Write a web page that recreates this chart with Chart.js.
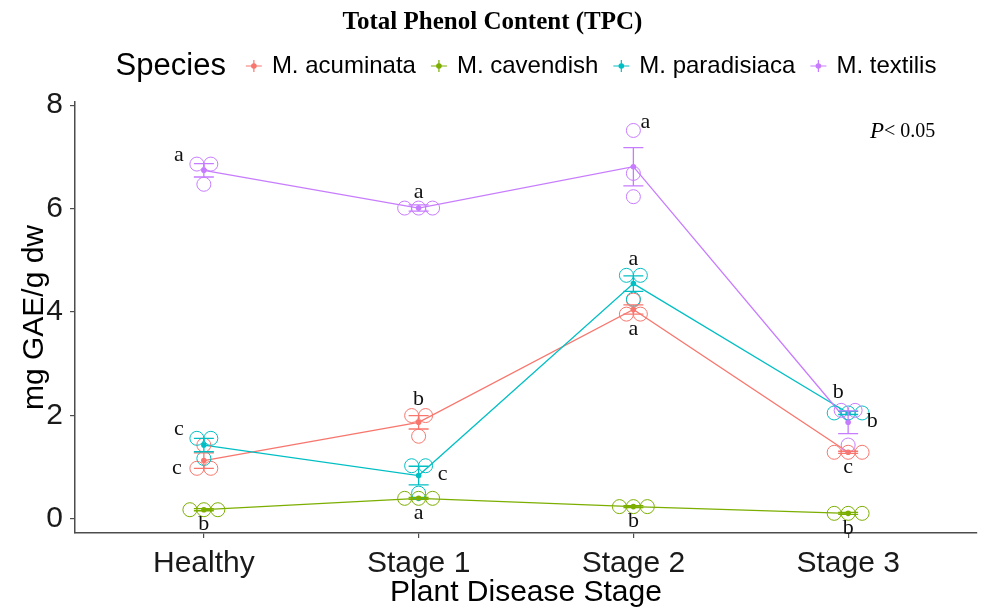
<!DOCTYPE html>
<html><head><meta charset="utf-8">
<script src="https://cdn.jsdelivr.net/npm/chart.js@4.4.0/dist/chart.umd.min.js"></script>
<style>html,body{margin:0;padding:0;background:#fff;}#wrap{width:985px;height:610px;}</style>
</head><body><div id="wrap"><canvas id="c" width="985" height="610"></canvas></div>
<script>
// ---------- data ----------
const stages = ['Healthy', 'Stage 1', 'Stage 2', 'Stage 3'];
const speciesNames = ['M. acuminata', 'M. cavendish', 'M. paradisiaca', 'M. textilis'];
const yTicks = [0, 2, 4, 6, 8];

const acuminataMean   = [1.13, 1.87, 4.05, 1.29];
const cavendishMean   = [0.18, 0.40, 0.24, 0.11];
const paradisiacaMean = [1.43, 0.84, 4.55, 2.05];
const textilisMean    = [6.74, 6.01, 6.81, 1.87];

const acuminataSE   = [0.15, 0.13, 0.09, 0.02];
const cavendishSE   = [0.02, 0.02, 0.02, 0.02];
const paradisiacaSE = [0.13, 0.18, 0.15, 0.03];
const textilisSE    = [0.13, 0.06, 0.37, 0.22];

const acuminataReps   = [[0.98, 0.98, 1.43], [2.00, 2.00, 1.60], [3.96, 3.96, 4.23], [1.28, 1.29, 1.30]];
const cavendishReps   = [[0.18, 0.18, 0.18], [0.40, 0.40, 0.40], [0.24, 0.24, 0.24], [0.10, 0.11, 0.12]];
const paradisiacaReps = [[1.56, 1.56, 1.17], [1.03, 1.03, 0.50], [4.71, 4.71, 4.25], [2.02, 2.05, 2.08]];
const textilisReps    = [[6.86, 6.86, 6.47], [5.99, 6.01, 6.03], [7.51, 6.68, 6.23], [2.10, 2.10, 1.43]];

const acuminataLetters   = ['c', 'b', 'a', 'c'];
const cavendishLetters   = ['b', 'a', 'b', 'b'];
const paradisiacaLetters = ['c', 'c', 'a', 'b'];
const textilisLetters    = ['a', 'a', 'a', 'b'];

// which side of each group the letter sits on
const acuminataSides   = ['l', 't', 'b', 'b'];
const cavendishSides   = ['b', 'b', 'b', 'b'];
const paradisiacaSides = ['ul', 'r', 't', 'tl'];
const textilisSides    = ['ul', 't', 'ur', 'r'];

// ---------- styling ----------
const COLORS = ['#F8766D', '#7CAE00', '#00BFC4', '#C77CFF'];
const SANS = 'Liberation Sans';
const SERIF = 'Liberation Serif';
const DOT_STEP = 0.065;   // horizontal stacking step of replicate dots (x units)
const BIN_TOL = 0.12;     // values closer than this share a dot bin
const CAP = 10;           // error bar cap half width (px)
const SIDE_OFFSETS = {
  t: [0, -16], b: [0, 15], l: [-27, 0], ul: [-25, -9], r: [24, -1], ur: [12, -8], tl: [-10, -21]
};

const means = [acuminataMean, cavendishMean, paradisiacaMean, textilisMean];
const ses = [acuminataSE, cavendishSE, paradisiacaSE, textilisSE];
const reps = [acuminataReps, cavendishReps, paradisiacaReps, textilisReps];
const letters = [acuminataLetters, cavendishLetters, paradisiacaLetters, textilisLetters];
const sides = [acuminataSides, cavendishSides, paradisiacaSides, textilisSides];

// dot-plot style stacking (binaxis y, stackdir center)
function dotGroup(values, stageIndex) {
  const sorted = values.slice().sort((a, b) => a - b);
  const bins = [];
  sorted.forEach(v => {
    const last = bins[bins.length - 1];
    if (last && v - last[0] <= BIN_TOL) last.push(v); else bins.push([v]);
  });
  const pts = [];
  bins.forEach(bin => {
    const yc = bin.reduce((a, b) => a + b, 0) / bin.length;
    bin.forEach((v, k) => pts.push({ x: stageIndex + (k - (bin.length - 1) / 2) * DOT_STEP, y: yc }));
  });
  return pts;
}
const dotPoints = reps.map(sp => sp.map((vals, i) => dotGroup(vals, i)));

const lineSets = speciesNames.map((name, s) => ({
  type: 'line', label: name,
  data: means[s].map((m, i) => ({ x: i, y: m })),
  borderColor: COLORS[s], backgroundColor: COLORS[s], borderWidth: 1.3,
  pointRadius: 2.8, pointBorderWidth: 0, pointBackgroundColor: COLORS[s],
  tension: 0, order: 20 - s
}));
const dotSets = speciesNames.map((name, s) => ({
  type: 'scatter', label: name + ' replicates',
  data: dotPoints[s].flat(), showLine: false,
  pointRadius: 7, pointBorderWidth: 1, pointBorderColor: COLORS[s],
  pointBackgroundColor: 'rgba(0,0,0,0)', order: 10 - s
}));

const errorBarPlugin = {
  id: 'errbars',
  afterDatasetsDraw(chart) {
    const { ctx, scales: { x, y } } = chart;
    ctx.save();
    ctx.lineWidth = 1.3;
    speciesNames.forEach((n, s) => {
      ctx.strokeStyle = COLORS[s];
      means[s].forEach((m, i) => {
        const px = x.getPixelForValue(i);
        const top = y.getPixelForValue(m + ses[s][i]);
        const bot = y.getPixelForValue(m - ses[s][i]);
        ctx.beginPath();
        ctx.moveTo(px, top); ctx.lineTo(px, bot);
        ctx.moveTo(px - CAP, top); ctx.lineTo(px + CAP, top);
        ctx.moveTo(px - CAP, bot); ctx.lineTo(px + CAP, bot);
        ctx.stroke();
      });
    });
    ctx.restore();
  }
};

const lettersPlugin = {
  id: 'letters',
  afterDatasetsDraw(chart) {
    const { ctx, scales: { x, y } } = chart;
    ctx.save();
    ctx.font = '22px "' + SERIF + '"';
    ctx.fillStyle = '#111';
    ctx.textAlign = 'center';
    ctx.textBaseline = 'middle';
    speciesNames.forEach((n, s) => {
      letters[s].forEach((L, i) => {
        const pts = dotPoints[s][i];
        const ys = pts.map(p => p.y);
        const side = sides[s][i];
        const off = SIDE_OFFSETS[side];
        let anchorVal;
        if (side === 't' || side === 'ul' || side === 'ur' || side === 'tl') anchorVal = Math.max(...ys);
        else if (side === 'b' || side === 'l') anchorVal = Math.min(...ys);
        else anchorVal = means[s][i];
        const px = x.getPixelForValue(i) + off[0];
        const py = y.getPixelForValue(anchorVal) + off[1];
        ctx.fillText(L, px, py);
      });
    });
    ctx.restore();
  }
};

const decorPlugin = {
  id: 'decor',
  afterDraw(chart) {
    const { ctx, chartArea } = chart;
    ctx.save();
    // title
    ctx.fillStyle = '#000';
    ctx.font = 'bold 25px "' + SERIF + '"';
    ctx.textAlign = 'center';
    ctx.textBaseline = 'middle';
    ctx.fillText('Total Phenol Content (TPC)', chart.width / 2, 23);

    // legend
    const legY = 66;
    const titleFont = '31px "' + SANS + '"';
    const itemFont = '24px "' + SANS + '"';
    ctx.font = titleFont;
    const tW = ctx.measureText('Species').width;
    ctx.font = itemFont;
    const itemW = speciesNames.map(n => ctx.measureText(n).width);
    const gapTitle = 20, symW = 16, gapSym = 10, gapItem = 15;
    let total = tW + gapTitle;
    itemW.forEach((w, k) => { total += symW + gapSym + w + (k < itemW.length - 1 ? gapItem : 0); });
    let xx = (chartArea.left + chartArea.right) / 2 - total / 2;
    ctx.textAlign = 'left';
    ctx.font = titleFont;
    ctx.fillText('Species', xx, legY);
    xx += tW + gapTitle;
    speciesNames.forEach((n, s) => {
      const cx = xx + symW / 2;
      ctx.strokeStyle = COLORS[s];
      ctx.fillStyle = COLORS[s];
      ctx.lineWidth = 1.2;
      ctx.beginPath();
      ctx.moveTo(xx, legY); ctx.lineTo(xx + symW, legY);
      ctx.moveTo(cx, legY - 6); ctx.lineTo(cx, legY + 6);
      ctx.stroke();
      ctx.beginPath(); ctx.arc(cx, legY, 2.8, 0, Math.PI * 2); ctx.fill();
      xx += symW + gapSym;
      ctx.fillStyle = '#000';
      ctx.font = itemFont;
      ctx.fillText(n, xx, legY);
      xx += itemW[s] + gapItem;
    });

    // p-value note
    const px = chartArea.right - 107, py = chartArea.top + 30;
    ctx.fillStyle = '#000';
    ctx.font = 'italic 23px "' + SERIF + '"';
    ctx.fillText('P', px, py);
    const pw = ctx.measureText('P').width;
    ctx.font = '20px "' + SERIF + '"';
    ctx.fillText('< 0.05', px + pw, py);
    ctx.restore();
  }
};

const axisColor = '#4d4d4d';
new Chart(document.getElementById('c'), {
  type: 'scatter',
  data: { datasets: [...lineSets, ...dotSets] },
  options: {
    responsive: false, animation: false, devicePixelRatio: 1,
    layout: { padding: { top: 102, right: 3, bottom: 0, left: 0 } },
    plugins: { legend: { display: false }, tooltip: { enabled: false }, title: { display: false } },
    scales: {
      x: {
        type: 'linear', min: -0.6, max: 3.6,
        afterBuildTicks: sc => { sc.ticks = stages.map((_, i) => ({ value: i })); },
        afterFit: sc => { sc.height = 77; },
        ticks: { callback: v => stages[v], font: { family: SANS, size: 30 }, color: '#1a1a1a', padding: 8, maxRotation: 0, autoSkip: false },
        grid: { drawOnChartArea: false, drawTicks: true, tickLength: 5, color: axisColor, lineWidth: 1.2 },
        border: { display: true, color: axisColor, width: 1.5 },
        title: { display: true, text: 'Plant Disease Stage', font: { family: SANS, size: 30 }, color: '#000', padding: { top: 0, bottom: -1 } }
      },
      y: {
        type: 'linear', min: -0.27, max: 8.06,
        afterBuildTicks: sc => { sc.ticks = yTicks.map(v => ({ value: v })); },
        afterFit: sc => { sc.width = 75; },
        ticks: { font: { family: SANS, size: 30 }, color: '#1a1a1a', padding: 7 },
        grid: { drawOnChartArea: false, drawTicks: true, tickLength: 5, color: axisColor, lineWidth: 1.2 },
        border: { display: true, color: axisColor, width: 1.5 },
        title: { display: true, text: 'mg GAE/g dw', font: { family: SANS, size: 30 }, color: '#000', padding: { top: 17, bottom: 0 } }
      }
    }
  },
  plugins: [errorBarPlugin, lettersPlugin, decorPlugin]
});
</script></body></html>
